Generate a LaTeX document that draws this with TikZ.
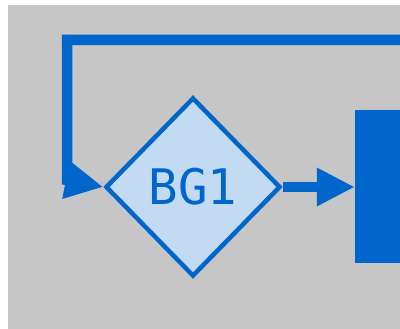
\documentclass[tikz,border=0pt]{standalone}
\usepackage{fontspec}
\setmonofont{DejaVu Sans Mono}
\usetikzlibrary{positioning, shapes.geometric, arrows.meta}

\definecolor{flowblue}{HTML}{0066CC}
\definecolor{gwfill}{HTML}{C2DAF2}
\definecolor{canvas}{HTML}{C6C6C6}

\tikzset{
  gateway/.style={draw=flowblue, fill=gwfill, diamond, line width=4.5pt,
    minimum width=175pt, minimum height=179pt, inner sep=0pt,
    text=flowblue, font=\ttfamily\fontsize{49}{50}\selectfont},
  taskbox/.style={fill=flowblue, rectangle, minimum width=120pt, minimum height=153pt},
  flow/.style={draw=flowblue, line width=10.5pt,
    -{Triangle[length=38pt,width=36pt]}}
}

\begin{document}
\begin{tikzpicture}[x=1pt, y=-1pt]
            \clip (0,0) rectangle (400,329);
            \fill[white] (0,0) rectangle (400,329);
            \fill[canvas] (8,5) rectangle (400,329);

            \node[gateway] (gw) at (193,187) {BG1};
            \node[taskbox] (task)[right=72pt of gw] {};
            \coordinate (c) at (67,40);
            \coordinate (d) at (67,180);

            \draw[flow] (gw) -- (task);
            \draw[flow] (task.north) |- (c) -- (d) -- (gw.west);
          \end{tikzpicture}
\end{document}
